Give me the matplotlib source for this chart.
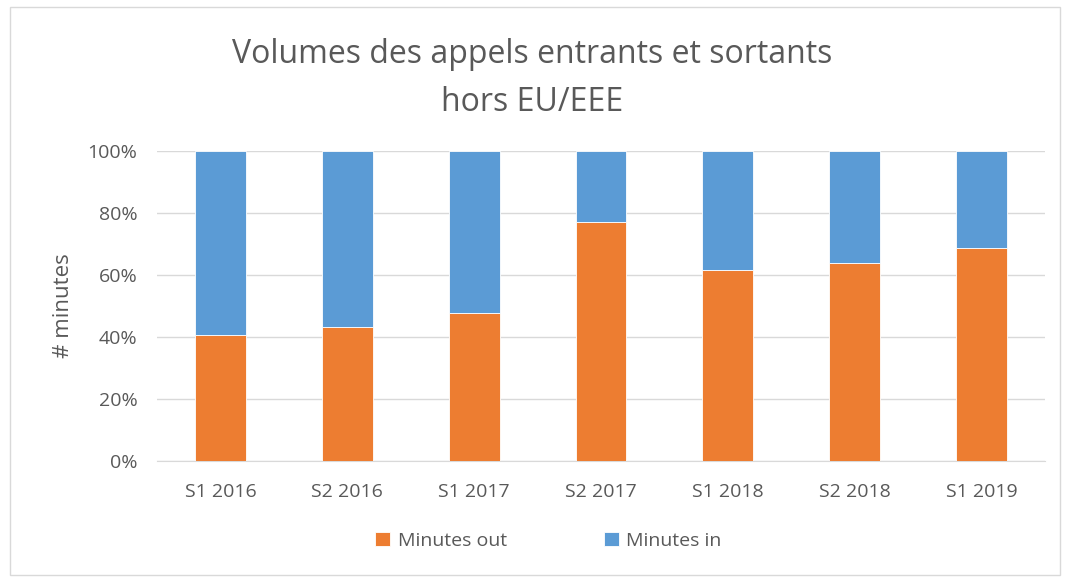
import matplotlib.pyplot as plt
import numpy as np
from matplotlib.patches import Rectangle

plt.rcParams['font.family'] = ['Open Sans', 'DejaVu Sans']

periods = ['S1 2016', 'S2 2016', 'S1 2017', 'S2 2017', 'S1 2018', 'S2 2018', 'S1 2019']
minutes_out = [40.5, 43.3, 47.6, 77.1, 61.5, 63.8, 68.6]
minutes_in = [100 - v for v in minutes_out]

orange = '#ED7D31'
blue = '#5B9BD5'
text_col = '#595959'

fig = plt.figure(figsize=(10.65, 5.79), dpi=100)
ax = fig.add_axes([157 / 1065, 1 - 461 / 579, (1045 - 157) / 1065, (461 - 151) / 579])

x = np.arange(len(periods))
ax.bar(x, minutes_out, width=0.4, color=orange, edgecolor='white', linewidth=0.6,
       label='Minutes out', zorder=3)
ax.bar(x, minutes_in, width=0.4, bottom=minutes_out, color=blue, edgecolor='white',
       linewidth=0.6, label='Minutes in', zorder=3)

ax.set_xlim(-0.5, len(periods) - 0.5)
ax.set_ylim(0, 100)
ax.set_yticks(range(0, 101, 20))
ax.set_yticklabels([f'{v}%' for v in range(0, 101, 20)])
ax.set_xticks(x)
ax.set_xticklabels(periods)
ax.yaxis.grid(True, color='#D9D9D9', linewidth=1, zorder=0)
for s in ['top', 'right', 'left']:
    ax.spines[s].set_visible(False)
ax.spines['bottom'].set_color('#D9D9D9')
ax.tick_params(axis='both', length=0, labelsize=14, colors=text_col)
ax.tick_params(axis='y', pad=14)
ax.tick_params(axis='x', pad=16)
ax.set_ylabel('# minutes', fontsize=16, color=text_col, labelpad=10)

fig.suptitle('Volumes des appels entrants et sortants\nhors EU/EEE', fontsize=23,
             color=text_col, y=0.935, linespacing=1.6)

leg = fig.legend(loc='lower center', bbox_to_anchor=(0.515, 0.02), ncol=2, frameon=False,
                 fontsize=14, handlelength=0.75, handleheight=0.75, columnspacing=5,
                 handletextpad=0.4)
for t in leg.get_texts():
    t.set_color(text_col)

fig.patches.append(Rectangle((10 / 1065, 4 / 579), 1050 / 1065, 568 / 579, transform=fig.transFigure,
                             fill=False, edgecolor='#D9D9D9', linewidth=1))

fig.savefig('out.png', dpi=100)
